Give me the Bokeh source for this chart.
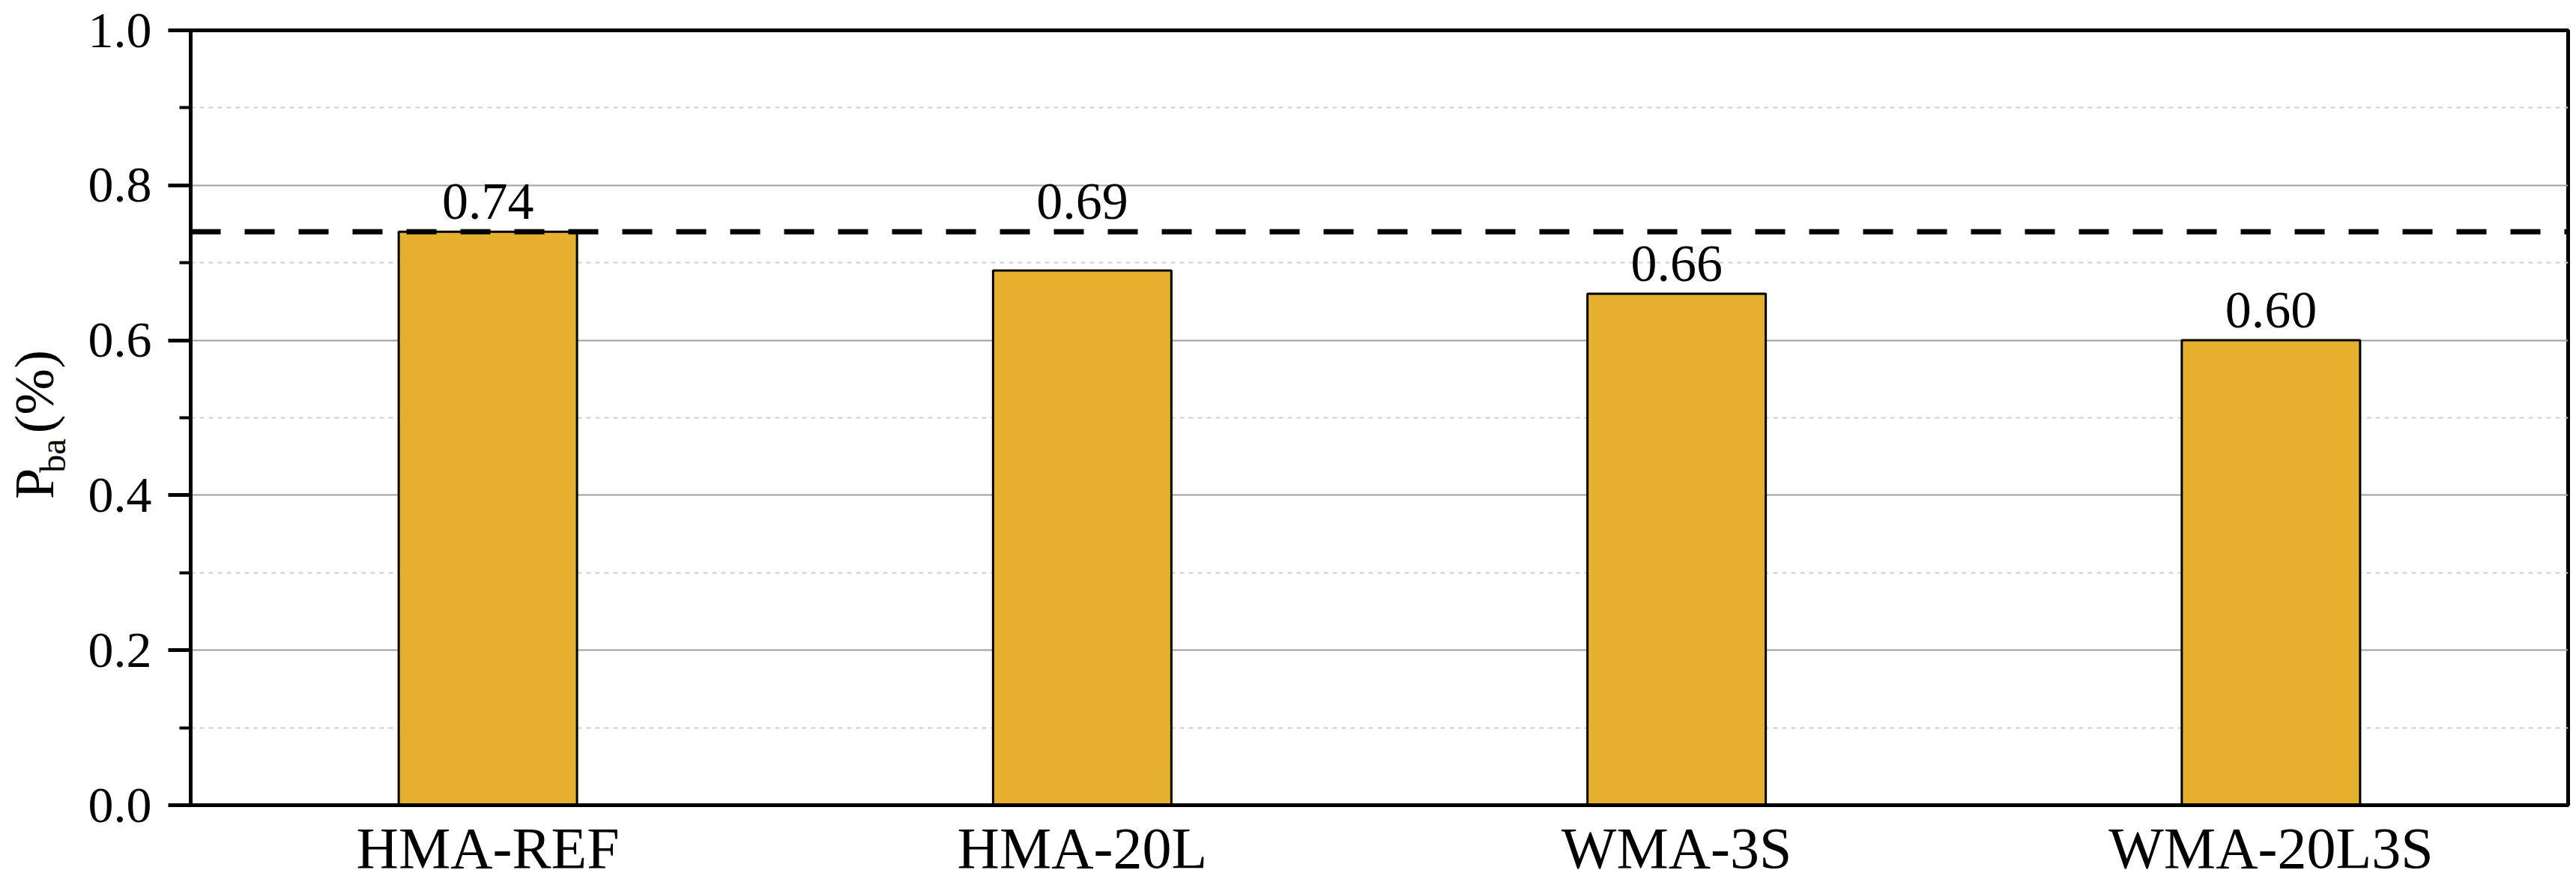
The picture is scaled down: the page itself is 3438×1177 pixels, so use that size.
import math
from bokeh.plotting import figure
from bokeh.layouts import row
from bokeh.models import (ColumnDataSource, FactorRange, Range1d, FixedTicker,
                          PrintfTickFormatter, Span)
from bokeh.core.properties import value
from bokeh.embed import file_html
from bokeh.resources import INLINE

# ---- data ----
categories = ["HMA-REF", "HMA-20L", "WMA-3S", "WMA-20L3S"]
pba_values = [0.74, 0.69, 0.66, 0.60]
value_labels = ["0.74", "0.69", "0.66", "0.60"]
reference_value = 0.74
y_major_ticks = [0.0, 0.2, 0.4, 0.6, 0.8, 1.0]
y_minor_ticks = [0.1, 0.3, 0.5, 0.7, 0.9]
y_title_main = "P"
y_title_sub = "ba"
y_title_unit = "(%)"

# label lift in screen px (0.69 label raised above the dashed reference line)
label_lift = [-40, -92, -40, -40]

FONT = "Liberation Serif"
BAR_COLOR = "#E6B02F"
TOTAL_W, TOTAL_H = 3438, 1177
LAB_W = 100

src = ColumnDataSource(dict(cat=categories, val=pba_values, lab=value_labels,
                            yoff=label_lift))

p = figure(width=TOTAL_W - LAB_W, height=TOTAL_H, output_backend="svg",
           toolbar_location=None,
           x_range=FactorRange(factors=categories), y_range=Range1d(0, 1.0),
           min_border_left=254 - LAB_W, min_border_right=11, min_border_top=40,
           min_border_bottom=103)
p.background_fill_color = "white"
p.border_fill_color = "white"
p.outline_line_color = "black"
p.outline_line_width = 5

# grids
p.xgrid.grid_line_color = None
p.ygrid.ticker = FixedTicker(ticks=y_major_ticks, minor_ticks=y_minor_ticks)
p.ygrid.grid_line_color = "#a0a0a0"
p.ygrid.grid_line_width = 2
p.ygrid.minor_grid_line_color = "#cfcfcf"
p.ygrid.minor_grid_line_width = 2
p.ygrid.minor_grid_line_dash = "6 6"

# bars
p.vbar(x="cat", top="val", bottom=0, width=0.3, source=src,
       fill_color=BAR_COLOR, line_color="black", line_width=3)

# reference dashed line
p.add_layout(Span(location=reference_value, dimension="width",
                  line_color="black", line_width=7, line_dash="40 32"))

# value labels
p.text(x="cat", y="val", text="lab", y_offset="yoff", source=src,
       text_font=value(FONT), text_font_size="70px", text_align="center",
       text_baseline="alphabetic", text_color="black")

# y axis
ya = p.yaxis[0]
ya.ticker = FixedTicker(ticks=y_major_ticks, minor_ticks=y_minor_ticks)
ya.formatter = PrintfTickFormatter(format="%.1f")
ya.axis_line_width = 5
ya.axis_line_color = "black"
ya.major_tick_in = 0
ya.major_tick_out = 30
ya.major_tick_line_width = 5
ya.minor_tick_in = 0
ya.minor_tick_out = 15
ya.minor_tick_line_width = 4
ya.major_label_standoff = 22
ya.major_label_text_font = FONT
ya.major_label_text_font_size = "68px"
ya.major_label_text_color = "black"

# x axis
xa = p.xaxis[0]
xa.axis_line_width = 5
xa.axis_line_color = "black"
xa.major_tick_line_color = None
xa.major_tick_in = 0
xa.major_tick_out = 0
xa.minor_tick_line_color = None
xa.major_label_standoff = 13
xa.major_label_text_font = FONT
xa.major_label_text_font_size = "78px"
xa.major_label_text_color = "black"

# ---- narrow left panel carrying the rotated y-axis title P_ba (%) ----
lab = figure(width=LAB_W, height=TOTAL_H, output_backend="svg",
             toolbar_location=None, x_range=Range1d(0, LAB_W),
             y_range=Range1d(0, TOTAL_H), x_axis_type=None, y_axis_type=None,
             min_border=0)
lab.outline_line_color = None
lab.grid.visible = False
lab.background_fill_color = "white"
lab.border_fill_color = "white"

title_src = ColumnDataSource(dict(
    t=[y_title_main, y_title_sub, y_title_unit],
    x=[45, 70, 45],
    y=[TOTAL_H - 712, TOTAL_H - 672, TOTAL_H - 612],
    s=["74px", "48px", "74px"],
))
lab.text(x="x", y="y", text="t", text_font_size="s", source=title_src,
         angle=math.pi / 2, text_font=value(FONT), text_align="left",
         text_baseline="alphabetic", text_color="black")

layout = row(lab, p, spacing=0)
open("out.html", "w").write(file_html(layout, INLINE))
